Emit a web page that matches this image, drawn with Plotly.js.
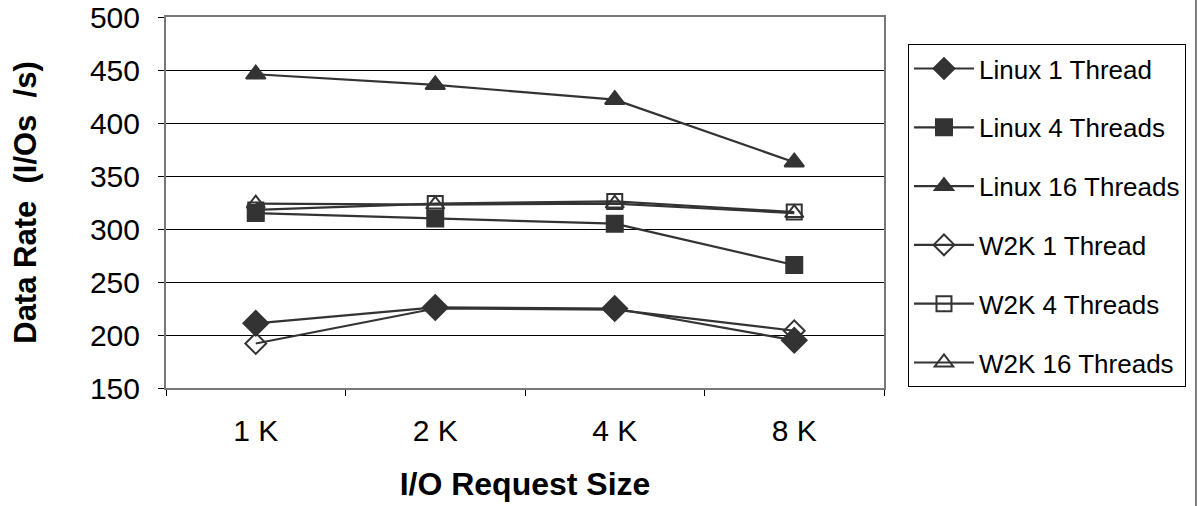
<!DOCTYPE html>
<html>
<head>
<meta charset="utf-8">
<script src="https://cdn.plot.ly/plotly-3.0.1.min.js"></script>
<style>html,body{margin:0;padding:0;background:#fff;}#chart{width:1198px;height:506px;}</style>
</head>
<body>
<div id="chart"></div>
<script>
var categories = ["1 K", "2 K", "4 K", "8 K"];
var seriesNames = ["Linux 1 Thread", "Linux 4 Threads", "Linux 16 Threads", "W2K 1 Thread", "W2K 4 Threads", "W2K 16 Threads"];
var linux1 = [211, 226, 225, 195];
var linux4 = [315, 310, 305, 266];
var linux16 = [446, 436, 422, 363];
var w2k1 = [192, 225, 224, 204];
var w2k4 = [318, 324, 326, 316];
var w2k16 = [324, 323, 324, 315];
var yTickVals = [150, 200, 250, 300, 350, 400, 450, 500];

var ink = "#333333";
var symbols = ["diamond", "square", "triangle-up", "diamond-open", "square-open", "triangle-up-open"];
var sizes = [19, 16, 17, 16, 15, 16];
var values = [linux1, linux4, linux16, w2k1, w2k4, w2k16];

var traces = values.map(function (v, i) {
  return {
    x: categories,
    y: v,
    name: seriesNames[i],
    legendgroup: "g" + i,
    type: "scatter",
    mode: "lines+markers",
    line: {color: ink, width: 2.2},
    marker: {symbol: symbols[i], size: sizes[i], color: ink, line: {color: ink, width: 2}},
    cliponaxis: false
  };
});

var font = "Liberation Sans, Arial, sans-serif";
var layout = {
  width: 1198,
  height: 506,
  paper_bgcolor: "#ffffff",
  plot_bgcolor: "#ffffff",
  margin: {l: 166, r: 314, t: 17, b: 118},
  font: {family: font, color: "#000000"},
  showlegend: true,
  legend: {
    x: 1.0334, xanchor: "left",
    y: 0.927, yanchor: "top",
    bgcolor: "#ffffff",
    bordercolor: "#000000",
    borderwidth: 1,
    font: {family: font, size: 26, color: "#000000"},
    tracegroupgap: 22,
    itemwidth: 60
  },
  xaxis: {
    type: "category",
    range: [-0.5, 3.5],
    tickson: "boundaries",
    ticks: "outside",
    ticklen: 6,
    tickcolor: "#000000",
    showgrid: false,
    showline: true,
    linecolor: "#777777",
    linewidth: 2,
    mirror: true,
    tickfont: {family: font, size: 30, color: "#000000"},
    ticklabelstandoff: 15,
    automargin: false,
    title: {text: "I/O Request Size", font: {family: font, size: 32, color: "#000000", weight: "bold"}, standoff: 27}
  },
  yaxis: {
    range: [150, 500],
    tickvals: yTickVals,
    ticks: "outside",
    ticklen: 6,
    tickcolor: "#000000",
    showgrid: true,
    gridcolor: "#000000",
    gridwidth: 1,
    showline: true,
    linecolor: "#777777",
    linewidth: 2,
    mirror: true,
    zeroline: false,
    tickfont: {family: font, size: 30, color: "#000000"},
    ticklabelstandoff: 12,
    automargin: false,
    title: {text: "Data Rate\u00a0 (I/Os\u00a0 /s)", font: {family: font, size: 31, color: "#000000", weight: "bold"}, standoff: 44}
  },
  shapes: [
    {type: "line", xref: "paper", yref: "paper", x0: 1.4345, x1: 1.4345, y0: -0.4, y1: 1.1, line: {color: "#000000", width: 1}}
  ]
};

Plotly.newPlot("chart", traces, layout, {displayModeBar: false, staticPlot: true});
</script>
</body>
</html>
